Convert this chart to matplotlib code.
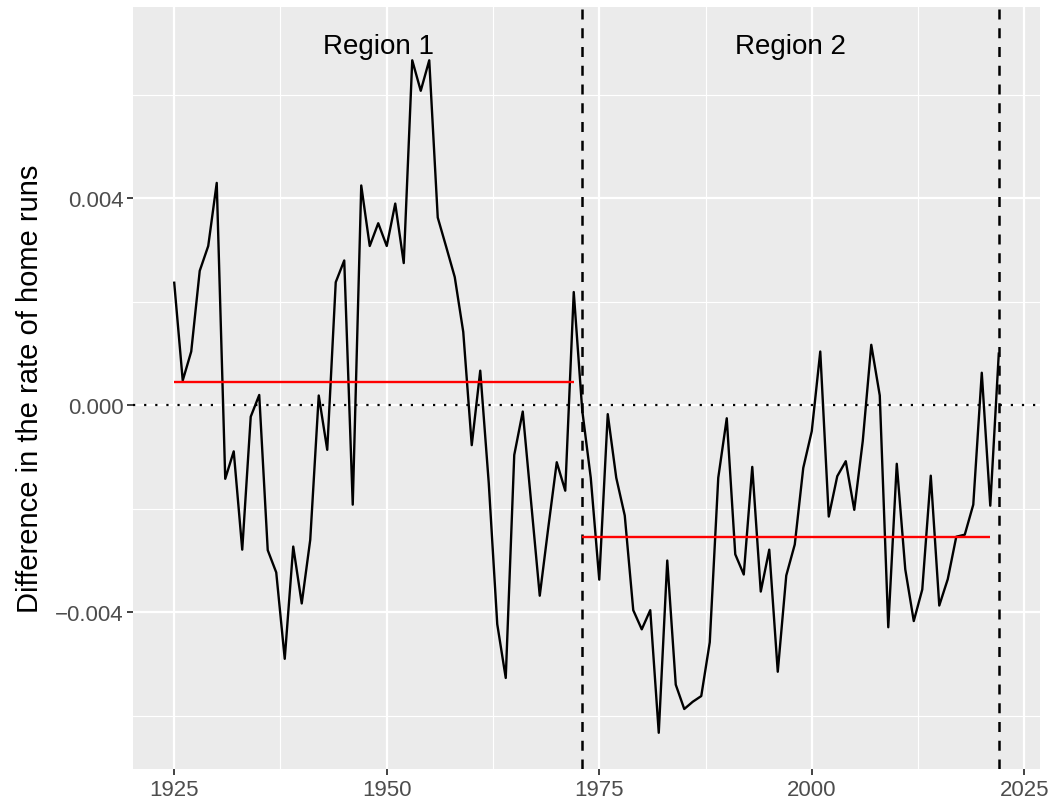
import numpy as np
import matplotlib
matplotlib.use("Agg")
import matplotlib.pyplot as plt

plt.rcParams['font.family'] = ['Liberation Sans', 'DejaVu Sans']

# yearly difference in the rate of home runs
years = list(range(1925, 2023))
diff = [
    0.00237, 0.00048, 0.00104, 0.00260, 0.00308, 0.00430, -0.00142, -0.00089,
    -0.00279, -0.00022, 0.00020, -0.00280, -0.00323, -0.00490, -0.00273, -0.00383,
    -0.00260, 0.00019, -0.00086, 0.00238, 0.00280, -0.00192, 0.00425, 0.00308,
    0.00352, 0.00308, 0.00390, 0.00275, 0.00667, 0.00608, 0.00667, 0.00363,
    0.00306, 0.00248, 0.00142, -0.00077, 0.00067, -0.00150, -0.00423, -0.00527,
    -0.00096, -0.00012, -0.00190, -0.00368, -0.00237, -0.00110, -0.00165, 0.00219,
    -0.00010, -0.00140, -0.00337, -0.00017, -0.00140, -0.00213, -0.00396, -0.00433,
    -0.00396, -0.00633, -0.00300, -0.00540, -0.00587, -0.00573, -0.00562, -0.00458,
    -0.00140, -0.00025, -0.00288, -0.00327, -0.00119, -0.00360, -0.00279, -0.00515,
    -0.00329, -0.00269, -0.00121, -0.00050, 0.00104, -0.00215, -0.00137, -0.00108,
    -0.00202, -0.00069, 0.00117, 0.00019, -0.00429, -0.00113, -0.00317, -0.00417,
    -0.00356, -0.00136, -0.00387, -0.00336, -0.00254, -0.00250, -0.00192, 0.00063,
    -0.00194, 0.00100,
]

# regions (start, end) and their mean level
region_start = [1925, 1973, 2022]
region_end = [1972, 2021, 2022]
region_mean = [0.00046, -0.00254, 0.00100]
breaks = [1973, 2022]
region_labels = ["Region 1", "Region 2"]
label_x = [1949, 1997.5]
label_y = 0.00694

fig = plt.figure(figsize=(10.52, 8.04), dpi=100)
ax = fig.add_axes([133 / 1052, 1 - 770 / 804, (1040 - 133) / 1052, (770 - 8) / 804])

# ggplot-like panel
ax.set_facecolor('#EBEBEB')
for s in ax.spines.values():
    s.set_visible(False)
ax.set_xlim(1920.15, 2026.85)
ax.set_ylim(-0.00703, 0.00770)
ax.set_xticks([1925, 1950, 1975, 2000, 2025])
ax.set_yticks([-0.004, 0.0, 0.004])
ax.set_yticklabels(['\u22120.004', '0.000', '0.004'])
ax.set_xticks([1937.5, 1962.5, 1987.5, 2012.5], minor=True)
ax.set_yticks([-0.006, -0.002, 0.002, 0.006], minor=True)
ax.grid(True, which='major', color='white', linewidth=1.6)
ax.grid(True, which='minor', color='white', linewidth=0.8)
ax.set_axisbelow(True)
ax.tick_params(which='major', length=4, width=1.3, color='#333333',
               labelsize=16, labelcolor='#4D4D4D', pad=3)
ax.tick_params(which='minor', length=0)

ax.plot(years, diff, color='black', linewidth=1.7, zorder=3)
ax.axhline(0, color='black', linewidth=1.6, linestyle=(0, (1, 4)), zorder=2)
for b in breaks:
    ax.axvline(b, color='black', linewidth=1.8, linestyle=(0, (4, 3.5)), zorder=4)
for s, e, m in zip(region_start, region_end, region_mean):
    ax.plot([s, e], [m, m], color='red', linewidth=1.7,
            solid_capstyle='projecting' if s == e else 'butt', zorder=4)
for x, t in zip(label_x, region_labels):
    ax.text(x, label_y, t, fontsize=20, ha='center', va='center', color='black')

ax.set_ylabel('Difference in the rate of home runs', fontsize=21, labelpad=8)

fig.savefig('out.png', dpi=100)
